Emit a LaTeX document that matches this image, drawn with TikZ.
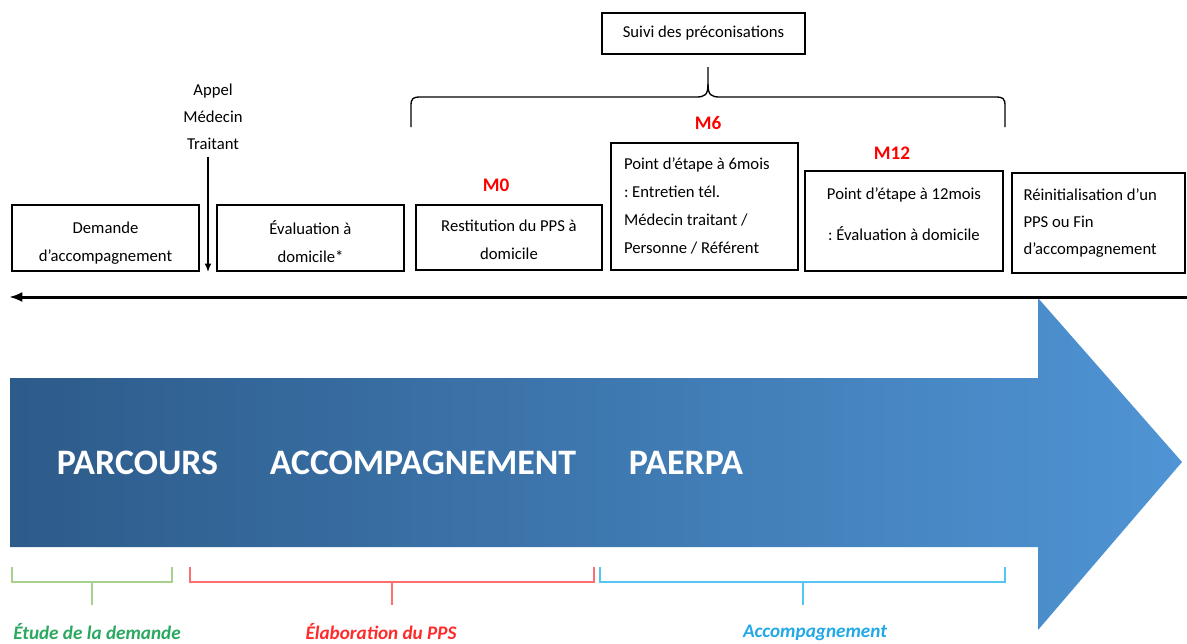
\documentclass[tikz,border=0pt]{standalone}
\usepackage{fontspec}
\setmainfont{Carlito}
\usetikzlibrary{arrows.meta}
\definecolor{arrL}{HTML}{2D5B8A}
\definecolor{arrR}{HTML}{4F94D4}
\definecolor{grnB}{HTML}{A9D18E}
\definecolor{grnT}{HTML}{2AA860}
\definecolor{redB}{HTML}{FF6F6F}
\definecolor{redT}{HTML}{FF2B2B}
\definecolor{bluB}{HTML}{55C6F2}
\definecolor{bluT}{HTML}{22A8E6}
\tikzset{
  frame/.style={draw, line width=0.8pt, inner sep=0pt},
  txt/.style={inner sep=0pt, align=center, font=\frenchspacing\fontsize{10}{16.8}\selectfont},
  wh/.style 2 args={minimum width={#1*0.6pt}, minimum height={#2*0.6pt}},
  mlab/.style={text=red, font=\fontsize{11.5}{14}\selectfont\bfseries},
  big/.style={text=white, font=\fontsize{21.5}{26}\selectfont\bfseries},
  phase/.style={font=\fontsize{11.5}{14}\selectfont\bfseries\itshape},
  brk/.style={line width=1.2pt},
}
\begin{document}
\begin{tikzpicture}[x=0.6pt,y=-0.6pt]
\useasboundingbox (0,0) rectangle (1187,644);
% big arrow
\shade[left color=arrL, right color=arrR] (10,378) -- (1038,378) -- (1038,298) -- (1182,462) -- (1038,630) -- (1038,547) -- (10,547) -- cycle;
\node[big] (t1) at (137.5,463) {PARCOURS};
\node[big] (t2) at (423,463) {ACCOMPAGNEMENT};
\node[big] (t3) at (686,463) {PAERPA};
% timeline
\coordinate (tlR) at (1187,297);
\coordinate (tlL) at (9,297);
\draw[line width=1.8pt, -{Latex[length=8pt,width=6pt]}] (tlR) -- (tlL);
% boxes
\node[frame, wh={187}{66}] (dem) at (105.5,238) {};
\node[txt] (demT) at ([yshift=-3pt]dem.center) {Demande\\d’accompagnement};
\node[frame, wh={187}{66}] (eval) at (310.5,238) {};
\node[txt] (evalT) at ([yshift=-2.1pt]eval.center) {Évaluation à\\domicile*};
\node[frame, wh={186}{65}] (rest) at (509,237.5) {};
\node[txt] (restT) at ([yshift=-1.5pt]rest.center) {Restitution du PPS à\\domicile};
\node[frame, wh={187}{127}] (m6b) at (704.5,206.5) {};
\node[txt, align=flush left, text width={161*0.6pt}] (m6T) at ([yshift=0.6pt]m6b.center) {Point d’étape à 6mois\\: Entretien tél.\\Médecin traitant /\\Personne / Référent};
\node[frame, wh={198}{100}] (m12b) at (904,221) {};
\node[txt] (m12T) at ([yshift=4pt]m12b.center) {Point d’étape à 12mois\\[8pt]: Évaluation à domicile};
\node[frame, wh={173}{100}] (reinit) at (1098.5,223) {};
\node[txt, align=flush left, text width={150*0.6pt}, font=\frenchspacing\fontsize{10}{16.2}\selectfont] (reinitT) at (reinit.center) {Réinitialisation d’un\\PPS ou Fin\\d’accompagnement};
\node[frame, wh={203}{41}] (suivi) at (703.5,33.5) {};
\node[txt] (suiviT) at (suivi.center) {Suivi des préconisations};
% appel
\node[txt, inner sep=2pt, font=\fontsize{10}{16.2}\selectfont] (appel) at (213,117) {Appel\\Médecin\\Traitant};
\coordinate (appelEnd) at (208,272);
\draw[line width=0.8pt, -{Latex[length=5pt,width=4pt]}] ([yshift=-2pt]appel.south -| appelEnd) -- (appelEnd);
% brace
\draw[line width=0.8pt] (411,127) -- (411,106) .. controls (411,98) and (413,97) .. (421,97) -- (696,97) .. controls (705,97) and (708,95) .. (708,84) -- (708,67);
\draw[line width=0.8pt] (1005,127) -- (1005,106) .. controls (1005,98) and (1003,97) .. (995,97) -- (720,97) .. controls (711,97) and (708,95) .. (708,84);
% milestones
\node[mlab] (m0) at (496,185) {M0};
\node[mlab] (m6) at (708,123) {M6};
\node[mlab] (m12) at (892,153) {M12};
% phases
\draw[brk, grnB] (12,567) -- (12,582) -- (172,582) -- (172,567) (92,582) -- (92,605);
\draw[brk, redB] (190,567) -- (190,582) -- (594,582) -- (594,567) (392,582) -- (392,605);
\draw[brk, bluB] (600,567) -- (600,582) -- (1005,582) -- (1005,567) (803,582) -- (803,605);
\node[phase, text=grnT] (etude) at (97,632) {Étude de la demande};
\node[phase, text=redT] (elab) at (381,632) {Élaboration du PPS};
\node[phase, text=bluT] (accomp) at (815,633) {Accompagnement};
\end{tikzpicture}
\end{document}
